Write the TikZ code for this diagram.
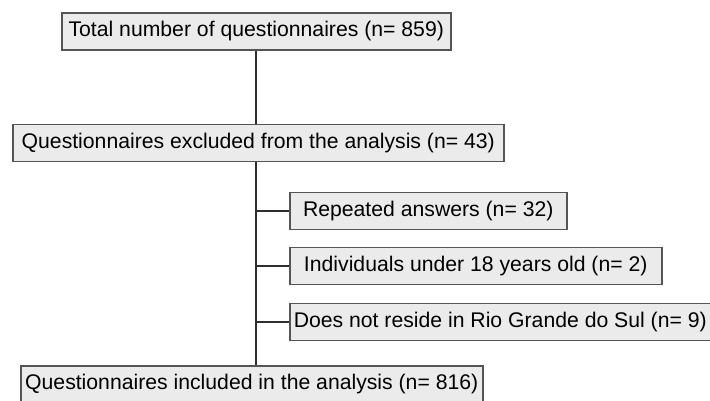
\documentclass[tikz,border=0pt]{standalone}
\usepackage{fontspec}
\setmainfont{Liberation Sans}
\usetikzlibrary{positioning}
\definecolor{BoxFill}{HTML}{EBEBEB}
\definecolor{BoxLine}{HTML}{555555}
\definecolor{LinkGray}{HTML}{2E2E2E}

\begin{document}
\begin{tikzpicture}[x=1pt,y=-1pt,
    box/.style={draw=BoxLine,fill=BoxFill,line width=1.5pt,anchor=west,
      inner xsep=4pt,minimum height=37pt,minimum width=#1,
      font=\fontsize{21.2}{24}\selectfont},
    link/.style={draw=LinkGray,line width=2.3pt}]
  \useasboundingbox (0,0) rectangle (710,400);
  \node[box=389pt] (total) at (61,31.5) {Total number of questionnaires (n= 859)};
  \node[box=491pt] (excl)  at (12,143)  {Questionnaires excluded from the analysis (n= 43)};
  \node[box=277pt] (rep)   at (289,211) {Repeated answers (n= 32)};
  \node[box=372pt] (age)   at (289,266) {Individuals under 18 years old (n= 2)};
  \node[box=421pt] (res)   at (289,322) {Does not reside in Rio Grande do Sul (n= 9)};
  \node[box=462pt] (incl)  at (20,384.5) {Questionnaires included in the analysis (n= 816)};
  \draw[link] (total.south) -- (total.south |- excl.north);
  \draw[link] (total.south |- excl.south) -- (total.south |- incl.north);
  \foreach \b in {rep,age,res}
    \draw[link] (total.south |- \b.west) -- (\b.west);
\end{tikzpicture}
\end{document}
